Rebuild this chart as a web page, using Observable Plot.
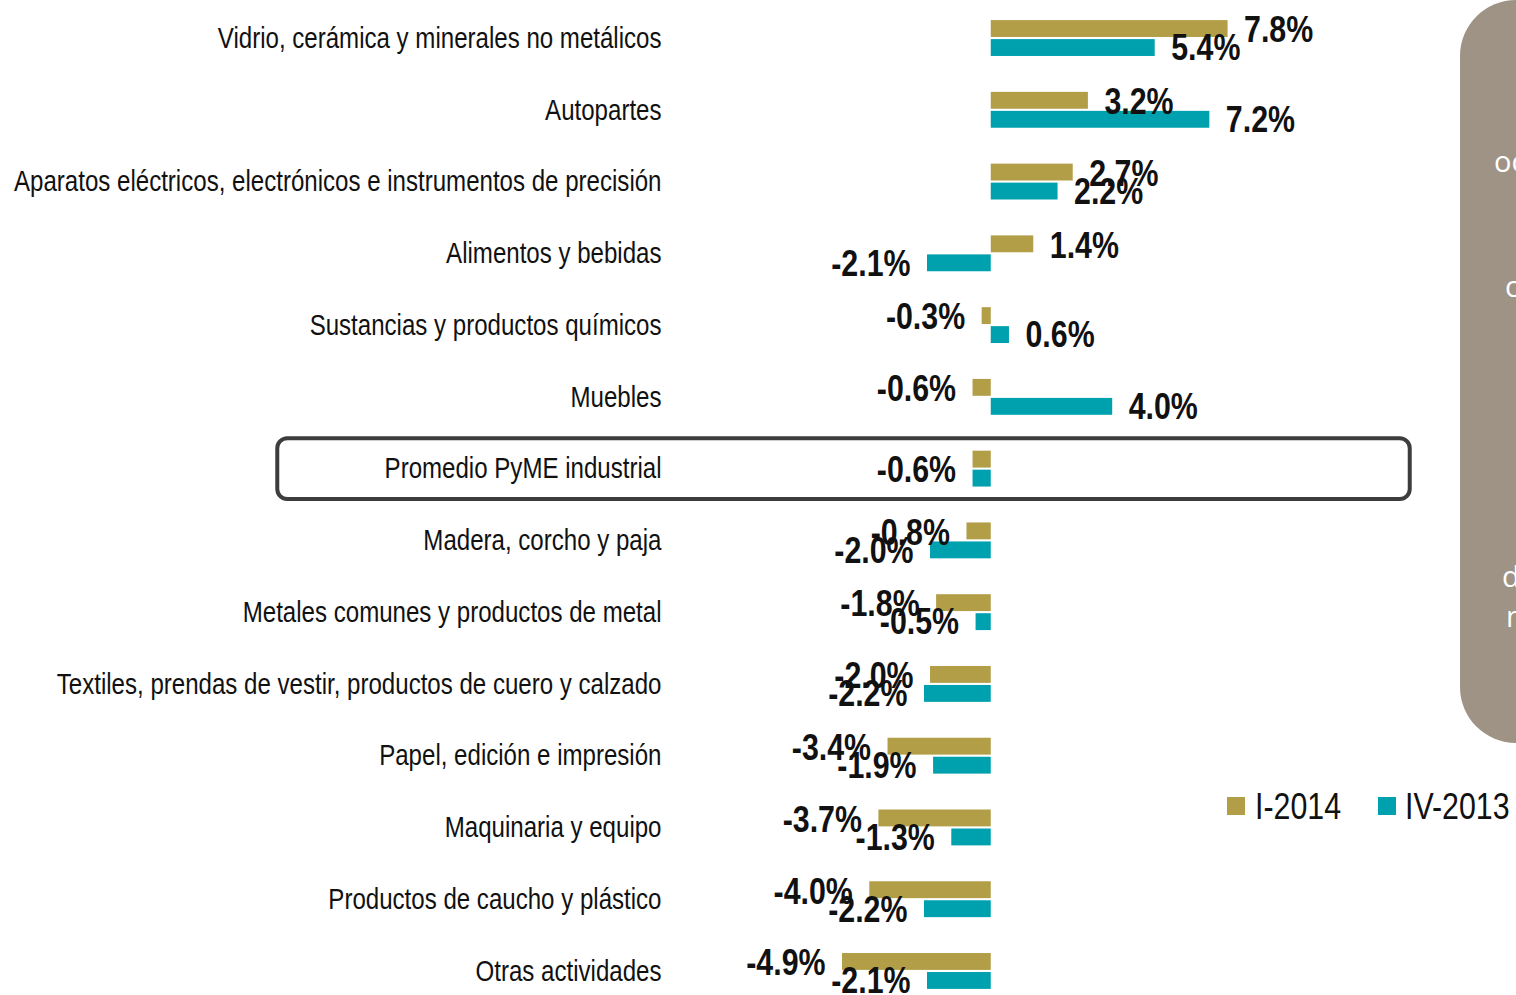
<!DOCTYPE html>
<html>
<head>
<meta charset="utf-8">
<script src="https://cdn.jsdelivr.net/npm/d3@7"></script>
<script src="https://cdn.jsdelivr.net/npm/@observablehq/plot@0.6"></script>
<style>
  html, body { margin: 0; padding: 0; background: #fff; overflow: hidden; }
  #wrap { position: relative; width: 1516px; height: 995px; overflow: hidden; }
  #chart { position: absolute; left: 0; top: 0; }
  #panel { position: absolute; left: 1460px; top: 0px; width: 220px; height: 743px;
           background: #9e9385; border-radius: 56px; overflow: hidden; }
  #panel span { position: absolute; color: #fff; font-family: "Open Sans", "Liberation Sans", sans-serif; font-size: 29px; line-height: 1; }
  .lg-sw { position: absolute; width: 18px; height: 18px; }
  .lg-tx { position: absolute; font-family: "Liberation Sans", Arial, sans-serif; font-size: 37px; line-height: 1;
           color: #111; white-space: nowrap; transform: scaleX(0.82); transform-origin: 0 0; }
</style>
</head>
<body>
<div id="wrap">
  <div id="chart"></div>
  <div id="panel">
    <span style="left:34px; top:146px;">oc</span>
    <span style="left:45px; top:271px;">c</span>
    <span style="left:42px; top:561px;">d</span>
    <span style="left:46px; top:601px;">n</span>
  </div>
  <div id="legend"></div>
</div>
<script>
// ---- data ----
const categories = [
  "Vidrio, cerámica y minerales no metálicos",
  "Autopartes",
  "Aparatos eléctricos, electrónicos e instrumentos de precisión",
  "Alimentos y bebidas",
  "Sustancias y productos químicos",
  "Muebles",
  "Promedio PyME industrial",
  "Madera, corcho y paja",
  "Metales comunes y productos de metal",
  "Textiles, prendas de vestir, productos de cuero y calzado",
  "Papel, edición e impresión",
  "Maquinaria y equipo",
  "Productos de caucho y plástico",
  "Otras actividades"
];
const seriesNames = ["I-2014", "IV-2013"];
const valuesI2014 = [7.8, 3.2, 2.7, 1.4, -0.3, -0.6, -0.6, -0.8, -1.8, -2.0, -3.4, -3.7, -4.0, -4.9];
const valuesIV2013 = [5.4, 7.2, 2.2, -2.1, 0.6, 4.0, -0.6, -2.0, -0.5, -2.2, -1.9, -1.3, -2.2, -2.1];
const highlighted = "Promedio PyME industrial";

// ---- styles ----
const colors = {"I-2014": "#b39e48", "IV-2013": "#00a1af"};
const FONT = '"Liberation Sans", Arial, sans-serif';

const rows = [];
categories.forEach((c, i) => {
  rows.push({cat: c, series: "I-2014", value: valuesI2014[i]});
  rows.push({cat: c, series: "IV-2013", value: valuesIV2013[i]});
});
const gold = rows.filter(d => d.series === "I-2014");
const teal = rows.filter(d => d.series === "IV-2013");
const fmt = v => v.toFixed(1) + "%";

const goldLabels = gold.filter(d => d.cat !== highlighted);
const tealLabels = teal.filter(d => d.cat !== highlighted);
const avgLabel = gold.filter(d => d.cat === highlighted);

const labelStyle = {y: "cat", x: "value", text: d => fmt(d.value), fontSize: 37, fontWeight: "bold", fill: "#111", className: "vlabel"};
const labelMarks = (data, dy) => [
  Plot.text(data.filter(d => d.value >= 0), {...labelStyle, textAnchor: "start", dx: 16, dy}),
  Plot.text(data.filter(d => d.value < 0), {...labelStyle, textAnchor: "end", dx: -17, dy})
];

const plot = Plot.plot({
  width: 1516,
  height: 1009,
  marginLeft: 675,
  marginRight: 0,
  marginTop: 0,
  marginBottom: 0,
  style: {fontFamily: FONT, background: "transparent", overflow: "visible"},
  x: {domain: [-10.4, 17.3], axis: null},
  y: {domain: categories, paddingInner: 0.5, paddingOuter: 0.28, round: false, label: null},
  marks: [
    Plot.axisY({tickSize: 0, tickPadding: 14, fontSize: 29, fill: "#111", label: null}),
    Plot.rect([highlighted], {
      y: d => d, x1: () => -23.5, x2: () => 13.8,
      insetTop: -12.5, insetBottom: -12.5, rx: 10,
      fill: "none", stroke: "#3d3d3d", strokeWidth: 4
    }),
    Plot.barX(gold, {y: "cat", x: "value", fill: colors["I-2014"], insetBottom: 19, insetTop: 0}),
    Plot.barX(teal, {y: "cat", x: "value", fill: colors["IV-2013"], insetTop: 19, insetBottom: 0}),
    ...labelMarks(goldLabels, -8),
    ...labelMarks(tealLabels, 10),
    ...labelMarks(avgLabel, 1)
  ]
});

document.getElementById("chart").appendChild(plot);

// condense all SVG text to mimic a narrow typeface
plot.querySelectorAll("text").forEach(t => {
  const w = t.getComputedTextLength();
  const isValue = t.closest(".vlabel") !== null;
  const k = isValue ? 0.82 : 0.83;
  if (w > 0) {
    t.setAttribute("textLength", (w * k).toFixed(2));
    t.setAttribute("lengthAdjust", "spacingAndGlyphs");
  }
});

// legend
const legend = document.getElementById("legend");
const legendPos = [
  {sw: 1227, tx: 1255},
  {sw: 1378, tx: 1405}
];
seriesNames.forEach((s, i) => {
  const sw = document.createElement("div");
  sw.className = "lg-sw";
  sw.style.left = legendPos[i].sw + "px";
  sw.style.top = "797px";
  sw.style.background = colors[s];
  legend.appendChild(sw);
  const tx = document.createElement("div");
  tx.className = "lg-tx";
  tx.style.left = legendPos[i].tx + "px";
  tx.style.top = "788px";
  tx.textContent = s;
  legend.appendChild(tx);
});
</script>
</body>
</html>
